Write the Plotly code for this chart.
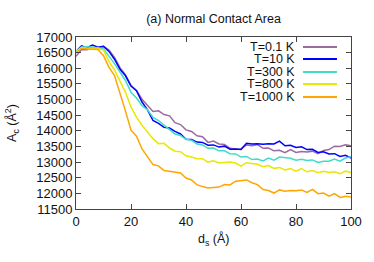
import plotly.graph_objects as go

ds = list(range(0, 101, 2))

series_names = ["T=0.1 K", "T=10 K", "T=300 K", "T=800 K", "T=1000 K"]
series_colors = ["#9a6aa0", "#0000ff", "#40dcc8", "#e8e800", "#ffa500"]

area_t01 = [16380, 16600, 16590, 16660, 16640, 16700, 16580, 16350, 16020, 15790,
            15450, 15290, 15010, 14830, 14620, 14640, 14520, 14480, 14260, 14200,
            14030, 13980, 13840, 13810, 13630, 13670, 13580, 13560, 13440, 13410,
            13420, 13550, 13520, 13560, 13440, 13450, 13360, 13380, 13300, 13400,
            13310, 13340, 13320, 13350, 13270, 13370, 13400, 13510, 13500, 13550,
            13520]
area_t10 = [16530, 16720, 16660, 16740, 16670, 16700, 16540, 16290, 15970, 15760,
            15430, 15280, 14920, 14670, 14330, 14240, 14110, 14090, 13980, 13900,
            13730, 13720, 13640, 13630, 13540, 13550, 13480, 13510, 13410, 13420,
            13400, 13600, 13580, 13590, 13570, 13590, 13580, 13670, 13520, 13540,
            13470, 13490, 13400, 13410, 13310, 13330, 13260, 13270, 13180, 13220,
            13130]
area_t300 = [16530, 16680, 16690, 16680, 16660, 16620, 16400, 16150, 15880, 15610,
             15230, 15050, 14800, 14670, 14430, 14330, 14180, 14050, 13900, 13850,
             13730, 13700, 13580, 13550, 13440, 13450, 13360, 13360, 13270, 13260,
             13160, 13180, 13080, 13100, 13040, 13130, 13060, 13160, 13130, 13120,
             13060, 13090, 13050, 13070, 12990, 13030, 13030, 13100, 13030, 13130,
             13170]
area_t800 = [16530, 16660, 16640, 16640, 16630, 16580, 16210, 15950, 15580, 15230,
             14760, 14430, 14180, 13980, 13750, 13590, 13600, 13450, 13350, 13330,
             13200, 13160, 13110, 13110, 13000, 13040, 12970, 12990, 13000, 12970,
             12870, 12980, 12950, 12930, 12850, 12890, 12800, 12830, 12750, 12790,
             12710, 12790, 12690, 12730, 12660, 12710, 12670, 12690, 12630, 12710,
             12670]
area_t1000 = [16480, 16640, 16620, 16620, 16600, 16400, 16030, 15770, 15230, 14630,
              14020, 13830, 13420, 13180, 12920, 12880, 12730, 12710, 12670, 12650,
              12490, 12430, 12270, 12210, 12170, 12190, 12200, 12280, 12270, 12390,
              12400, 12430, 12340, 12280, 12120, 12090, 12010, 12110, 12070, 12090,
              12080, 12110, 12030, 12130, 11990, 12010, 11910, 11990, 11870, 11910,
              11880]

all_series = [area_t01, area_t10, area_t300, area_t800, area_t1000]

FONT = "Liberation Sans, Arial, sans-serif"
fig = go.Figure()
for name, color, vals in zip(series_names, series_colors, all_series):
    fig.add_trace(go.Scatter(x=ds, y=vals, mode="lines", name=name,
                             line=dict(color=color, width=1.5),
                             showlegend=False))

# custom legend (text left of sample line, as in the reference)
leg_y = [0.942, 0.872, 0.797, 0.727, 0.651]
for name, color, yy in zip(series_names, series_colors, leg_y):
    fig.add_annotation(x=0.799, y=yy, xref="paper", yref="paper", text=name,
                       showarrow=False, xanchor="right", yanchor="middle",
                       height=12, borderpad=0, valign="middle",
                       font=dict(family=FONT, size=12.5, color="#111"))
    fig.add_shape(type="line", xref="paper", yref="paper",
                  x0=0.8255, x1=0.949, y0=yy, y1=yy,
                  line=dict(color=color, width=2))

axis_common = dict(showline=True, linecolor="#444", linewidth=1, mirror="ticks",
                   ticks="inside", ticklen=5, tickcolor="#444", showgrid=False,
                   zeroline=False, automargin=False, tickformat="d",
                   tickfont=dict(family=FONT, size=13, color="#111"))

fig.update_xaxes(range=[0, 100], dtick=20, **axis_common)
fig.update_yaxes(range=[11500, 17000], dtick=500, **axis_common)

# axis titles
fig.add_annotation(x=0.5, y=-0.175, xref="paper", yref="paper",
                   text="d<sub>s</sub> (Å)", showarrow=False,
                   xanchor="center", yanchor="middle",
                   font=dict(family=FONT, size=12.5, color="#111"))
fig.add_annotation(x=-0.233, y=0.5, xref="paper", yref="paper",
                   text="A<sub>c</sub> (Å<sup>2</sup>)", showarrow=False,
                   textangle=-90, xanchor="center", yanchor="middle",
                   font=dict(family=FONT, size=12.5, color="#111"))

fig.update_layout(
    width=374, height=262,
    margin=dict(l=76, r=23, t=37, b=53),
    paper_bgcolor="white", plot_bgcolor="white",
    title=dict(text="(a) Normal Contact Area", x=0.571, xanchor="center",
               y=1 - 19 / 262, yanchor="middle",
               font=dict(family=FONT, size=12.5, color="#111")),
)

fig.write_html("out.html", config={"displayModeBar": False},
               post_script="document.body.style.margin='0';document.body.style.overflow='hidden';")
